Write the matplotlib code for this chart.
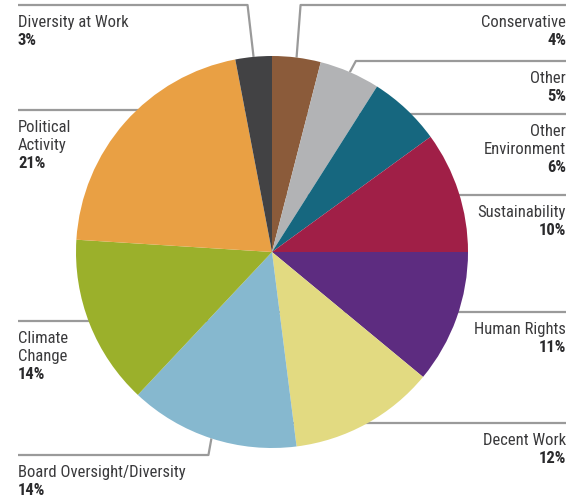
import numpy as np
import matplotlib.pyplot as plt

# issue shares, clockwise from 12 o'clock
labels = ["Conservative", "Other", "Other\nEnvironment", "Sustainability",
          "Human Rights", "Decent Work", "Board Oversight/Diversity",
          "Climate\nChange", "Political\nActivity", "Diversity at Work"]
shares = [4, 5, 6, 10, 11, 12, 14, 14, 21, 3]
colors = ["#8b5b3a", "#b2b3b5", "#16677f", "#a01f47", "#5d2c80",
          "#e2da81", "#86b8cf", "#9bb02b", "#e9a044", "#424244"]

# label layout: side, y of the leader line (px from top), elbow offset or None
sides = ["R", "R", "R", "R", "R", "R", "L", "L", "L", "L"]
line_y = [5, 61, 114, 195, 312, 423, 455, 321, 110, 5]
elbow_dx = [4, 6, None, None, None, None, -3, None, None, -6]

W, H = 570, 499
CX, CY, R = 272, 252, 196
LEFT_X, RIGHT_X = 18, 566

fig = plt.figure(figsize=(W / 100, H / 100), dpi=100)
ax = fig.add_axes([0, 0, 1, 1])

wedges, _ = ax.pie(shares, colors=colors, startangle=90, counterclock=False,
                   center=(CX, H - CY), radius=R,
                   wedgeprops=dict(linewidth=0, zorder=3))

# pie() resets the limits, so set the pixel frame afterwards
ax.set_xlim(0, W)
ax.set_ylim(0, H)
ax.set_aspect("equal")
ax.axis("off")

line_kw = dict(color="#9a9a9a", lw=1.6, zorder=1, solid_capstyle="butt")
font = ["Roboto Condensed", "Liberation Sans", "DejaVu Sans"]
txt_col = "#3a3a3c"

for w, lab, pct, side, ly, edx in zip(wedges, labels, shares, sides, line_y, elbow_dx):
    mid = np.deg2rad((w.theta1 + w.theta2) / 2)
    ax_x = CX + R * np.cos(mid)
    ax_y = CY - R * np.sin(mid)
    if edx is not None:
        ex = ax_x + edx
        xs = [ax_x, ex, RIGHT_X if side == "R" else LEFT_X]
        ys = [ax_y, ly, ly]
    else:
        xs = [CX, RIGHT_X if side == "R" else LEFT_X]
        ys = [ly, ly]
    ax.plot(xs, [H - y for y in ys], **line_kw)

    tx = RIGHT_X if side == "R" else LEFT_X
    ha = "right" if side == "R" else "left"
    rows = lab.split("\n")
    for i, row in enumerate(rows):
        ax.text(tx, H - (ly + 22 + i * 18), row, ha=ha, va="baseline",
                fontsize=12, family=font, color=txt_col)
    ax.text(tx, H - (ly + 22 + len(rows) * 18), f"{pct}%", ha=ha, va="baseline",
            fontsize=12, family=font, fontweight="bold", color="#2a2a2c")

fig.savefig("out.png", dpi=100)
